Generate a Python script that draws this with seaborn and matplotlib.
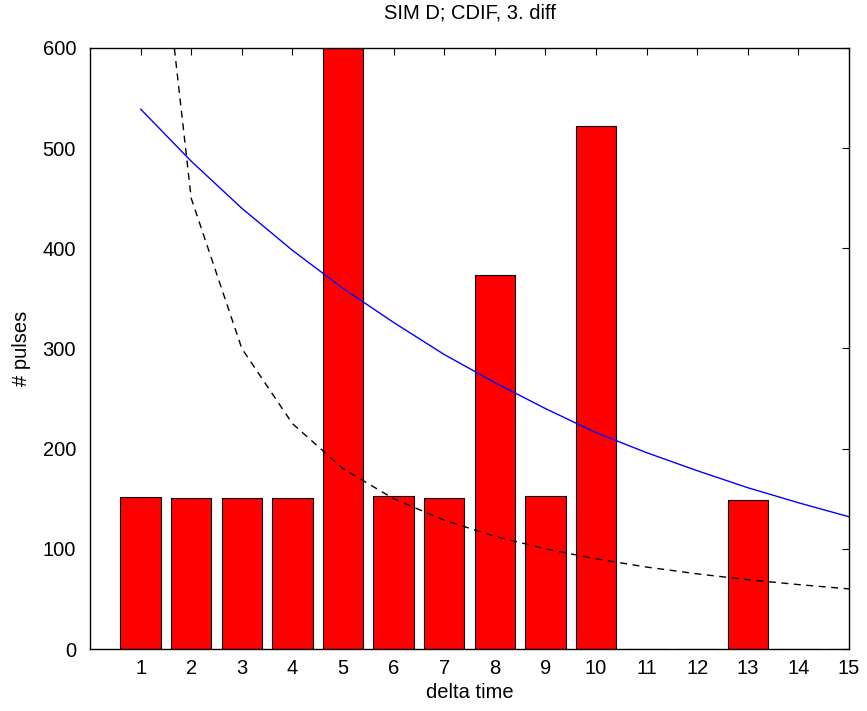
import matplotlib
matplotlib.use("Agg")
import matplotlib.pyplot as plt
import numpy as np
import pandas as pd
import seaborn as sns

# Pulse counts per delta time bin
delta_time = [1, 2, 3, 4, 5, 6, 7, 8, 9, 10, 11, 12, 13, 14, 15]
pulses = [152, 151, 151, 151, 600, 153, 151, 373, 153, 522, 0, 0, 149, 0, 0]

# Reference curves
blue_curve = [539, 487, 440, 398, 360, 326, 294, 266, 240, 216, 196, 178, 161, 146, 132]
dashed_curve = [900, 450, 300, 225, 180, 150, 128.6, 112.5, 100, 90, 81.8, 75, 69.2, 64.3, 60]

yticks = [0, 100, 200, 300, 400, 500, 600]

sns.set_style("white")
plt.rcParams["font.family"] = ["Liberation Sans", "DejaVu Sans"]
plt.rcParams["xtick.direction"] = "in"
plt.rcParams["ytick.direction"] = "in"
plt.rcParams["text.color"] = "black"
plt.rcParams["axes.labelcolor"] = "black"

df = pd.DataFrame({"delta time": delta_time, "pulses": pulses})

fig = plt.figure(figsize=(8.67, 7.11), dpi=100)
ax = fig.add_axes([0.1038, 0.0872, 0.8755, 0.8453])

sns.barplot(data=df, x="delta time", y="pulses", native_scale=True, width=0.8,
            color="red", saturation=1, edgecolor="black", linewidth=0.8, ax=ax,
            errorbar=None)
sns.lineplot(x=delta_time, y=blue_curve, color="blue", linewidth=1.0, ax=ax)
sns.lineplot(x=delta_time, y=dashed_curve, color="black", linewidth=1.0,
             linestyle=(0, (5, 4)), ax=ax)

ax.set_xlim(0, 15)
ax.set_ylim(0, 600)
ax.set_xticks(delta_time)
ax.set_xticklabels([str(v) for v in delta_time])
ax.set_yticks(yticks)
ax.set_yticklabels([str(v) for v in yticks])
ax.tick_params(axis="both", which="both", labelsize=14.5, length=5, width=0.8,
               top=True, right=True, colors="black", labelcolor="black")
ax.tick_params(axis="x", pad=7)
ax.tick_params(axis="y", pad=10)

for side in ["left", "right", "top", "bottom"]:
    ax.spines[side].set_visible(True)
    ax.spines[side].set_color("black")
    ax.spines[side].set_linewidth(1.0)

ax.set_xlabel("delta time", fontsize=14.5, labelpad=4, color="black")
ax.set_ylabel("# pulses", fontsize=14.5, labelpad=8, color="black")
ax.set_title("SIM D; CDIF, 3. diff", fontsize=14.5, pad=21, color="black")

fig.savefig("out.png", dpi=100, facecolor="white")
